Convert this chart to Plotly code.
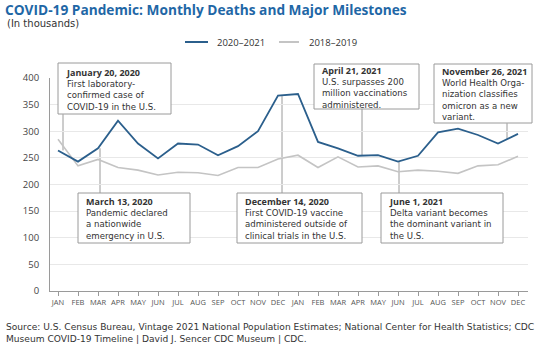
import plotly.graph_objects as go

months = ["JAN", "FEB", "MAR", "APR", "MAY", "JUN", "JUL", "AUG", "SEP", "OCT", "NOV", "DEC"]
tick_labels = months + months
x_idx = list(range(24))

deaths_2020_2021 = [264, 243, 268, 320, 277, 249, 277, 275, 255, 272, 300, 367,
                    370, 280, 268, 254, 255, 243, 254, 298, 305, 293, 277, 295]
deaths_2018_2019 = [285, 235, 247, 232, 227, 218, 223, 222, 217, 232, 232, 248,
                    255, 232, 252, 233, 235, 224, 227, 225, 221, 235, 237, 253]

BLUE = "#2b5f8c"
GREY = "#c4c4c4"
TITLE_BLUE = "#1f67a6"
TXT = "#333333"
FONT = "Open Sans"
BODY = "DejaVu Sans"

W, H = 538, 345
ML, MR, MT, MB = 50, 10, 78, 54
PW, PH = W - ML - MR, H - MT - MB


def PX(px):
    return (px - ML) / PW


def PY(py):
    return (H - MB - py) / PH


fig = go.Figure()
fig.add_trace(go.Scatter(x=x_idx, y=deaths_2018_2019, mode="lines", name="2018–2019",
                         line=dict(color=GREY, width=1.6), showlegend=False))
fig.add_trace(go.Scatter(x=x_idx, y=deaths_2020_2021, mode="lines", name="2020–2021",
                         line=dict(color=BLUE, width=1.8), showlegend=False))

# milestones: (connector x in month index, y from, y to, box px left, top, right, bottom, lines)
milestones = [
    (0.25, deaths_2020_2021[0], 332, (58, 63, 171, 114),
     ["January 20, 2020", "First laboratory-", "confirmed case of", "COVID-19 in the U.S."]),
    (2.1, deaths_2020_2021[2], 184, (78, 193, 190, 243),
     ["March 13, 2020", "Pandemic declared", "a nationwide", "emergency in U.S."]),
    (11.2, 366, 184, (237, 193, 362, 243),
     ["December 14, 2020", "First COVID-19 vaccine", "administered outside of", "clinical trials in the U.S."]),
    (15.2, 255, 342, (314, 64, 419, 109),
     ["April 21, 2021", "U.S. surpasses 200", "million vaccinations", "administered."]),
    (17.05, deaths_2020_2021[17], 184, (381, 193, 503, 243),
     ["June 1, 2021", "Delta variant becomes", "the dominant variant in", "the U.S."]),
    (22.45, 286, 315, (434, 64, 532, 123),
     ["November 26, 2021", "World Health Orga-", "nization classifies", "omicron as a new", "variant."]),
]

shapes = []
annotations = []
for cx, y0, y1, (bl, bt, br, bb), lines in milestones:
    shapes.append(dict(type="line", xref="x", yref="y", x0=cx, x1=cx, y0=y0, y1=y1,
                       line=dict(color="#9a9a9a", width=1), layer="below"))
    shapes.append(dict(type="rect", xref="paper", yref="paper", x0=PX(bl), x1=PX(br),
                       y0=PY(bb), y1=PY(bt), line=dict(color="#9a9a9a", width=1),
                       fillcolor="white", layer="above"))
    head = f'<span style="font-family:Open Sans;font-weight:bold;font-size:9px">{lines[0]}</span>'
    txt = "<br>".join([head] + lines[1:])
    annotations.append(dict(xref="paper", yref="paper", x=PX(bl + 6), y=PY((bt + bb) / 2),
                            xanchor="left", yanchor="middle", showarrow=False, text=txt,
                            align="left", font=dict(family=BODY, size=8.6, color=TXT)))

# legend (manual)
legend_items = [("2020–2021", BLUE, 185, 208, 215), ("2018–2019", GREY, 279, 299, 307)]
for name, col, lx0, lx1, tx in legend_items:
    shapes.append(dict(type="line", xref="paper", yref="paper", x0=PX(lx0), x1=PX(lx1),
                       y0=PY(42), y1=PY(42), line=dict(color=col, width=2)))
    annotations.append(dict(xref="paper", yref="paper", x=PX(tx), y=PY(42), xanchor="left",
                            yanchor="middle", showarrow=False, text=name,
                            font=dict(family=FONT, size=9.5, color=TXT)))

# subtitle
annotations.append(dict(xref="paper", yref="paper", x=PX(5), y=PY(23), xanchor="left",
                        yanchor="middle", showarrow=False, text="(In thousands)",
                        font=dict(family=BODY, size=10, color=TXT)))
# source
annotations.append(dict(xref="paper", yref="paper", x=PX(4), y=PY(333), xanchor="left",
                        yanchor="middle", showarrow=False, align="left",
                        text="Source: U.S. Census Bureau, Vintage 2021 National Population Estimates; National Center for Health Statistics; CDC<br>Museum COVID-19 Timeline | David J. Sencer CDC Museum | CDC.",
                        font=dict(family=BODY, size=9.1, color=TXT)))

fig.update_layout(
    width=W, height=H,
    margin=dict(l=ML, r=MR, t=MT, b=MB),
    paper_bgcolor="white", plot_bgcolor="white",
    title=dict(text="<b>COVID-19 Pandemic: Monthly Deaths and Major Milestones</b>",
               xref="container", yref="container", x=5 / W, y=1 - 10 / H,
               xanchor="left", yanchor="middle",
               font=dict(family=FONT, size=13.7, color=TITLE_BLUE)),
    shapes=shapes, annotations=annotations,
    showlegend=False,
)
fig.update_xaxes(range=[-0.4, 23.5], tickmode="array", tickvals=x_idx, ticktext=tick_labels,
                 showgrid=False, zeroline=False, showline=True, linecolor="#9a9a9a", linewidth=1,
                 ticks="outside", ticklen=4, tickcolor="#9a9a9a", tickangle=0,
                 tickfont=dict(family=FONT, size=7.5, color="#555555"))
fig.update_yaxes(range=[0, 400], tickmode="array", tickvals=list(range(0, 401, 50)),
                 showgrid=True, gridcolor="#e8e8e8", gridwidth=1, zeroline=False,
                 showline=True, linecolor="#9a9a9a", linewidth=1, ticks="",
                 ticklabelstandoff=8,
                 tickfont=dict(family=FONT, size=9.5, color="#444444"))

fig.write_html("out.html")
